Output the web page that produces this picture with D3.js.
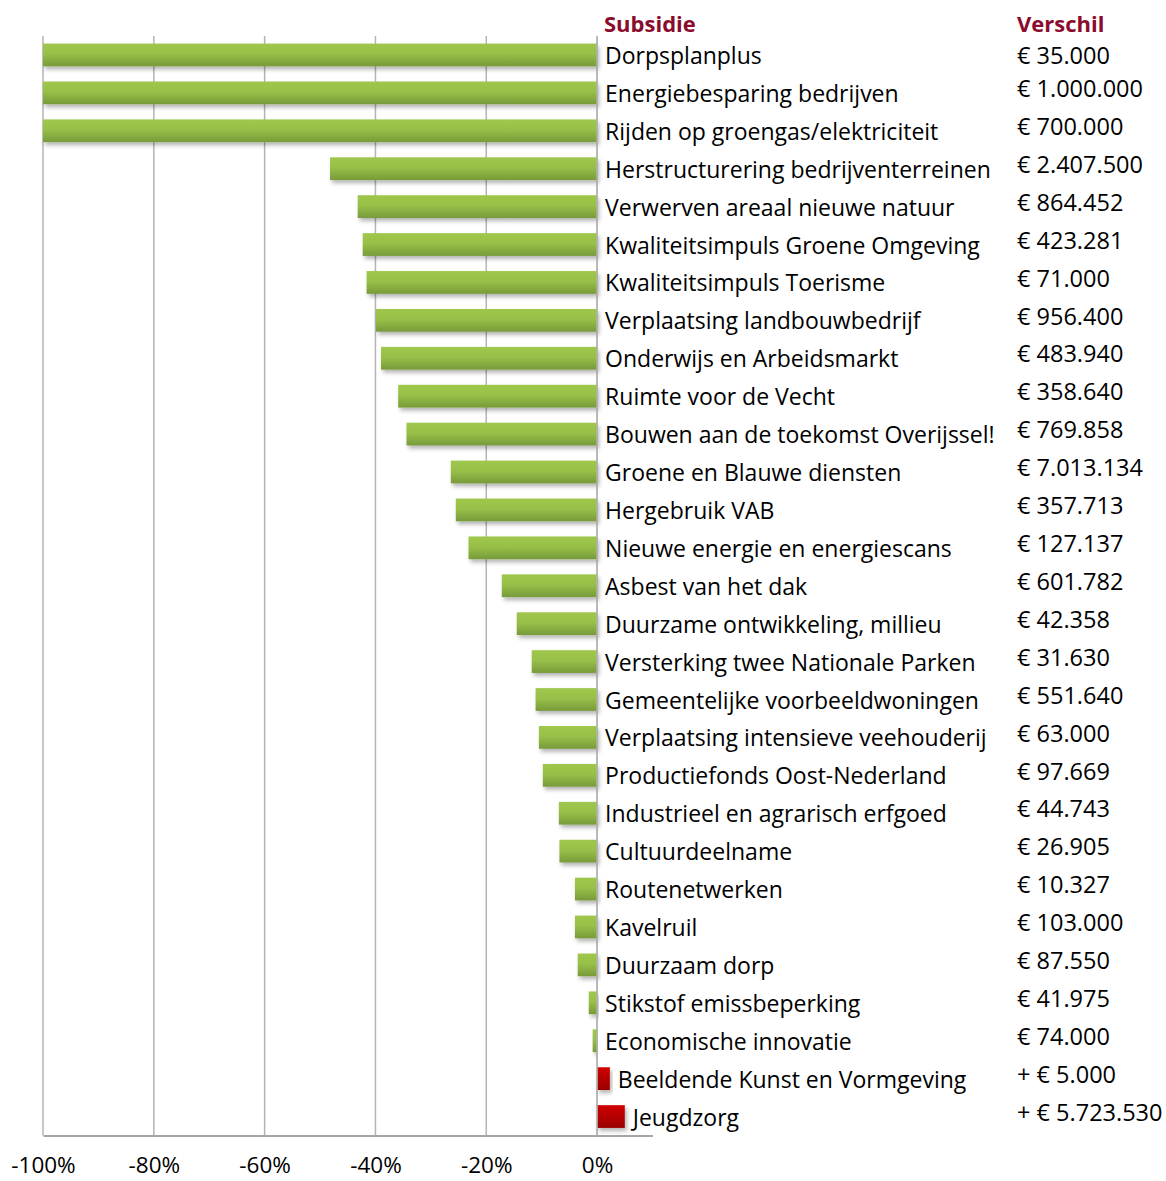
<!DOCTYPE html>
<html>
<head>
<meta charset="utf-8">
<script src="https://cdn.jsdelivr.net/npm/d3@7"></script>
<style>
  body { margin: 0; background: #fff; }
  text { font-family: "Open Sans", sans-serif; }
</style>
</head>
<body>
<script>
// Subsidies and their relative change
const categories = [
  'Dorpsplanplus', 'Energiebesparing bedrijven', 'Rijden op groengas/elektriciteit',
  'Herstructurering bedrijventerreinen', 'Verwerven areaal nieuwe natuur',
  'Kwaliteitsimpuls Groene Omgeving', 'Kwaliteitsimpuls Toerisme',
  'Verplaatsing landbouwbedrijf', 'Onderwijs en Arbeidsmarkt', 'Ruimte voor de Vecht',
  'Bouwen aan de toekomst Overijssel!', 'Groene en Blauwe diensten', 'Hergebruik VAB',
  'Nieuwe energie en energiescans', 'Asbest van het dak', 'Duurzame ontwikkeling, millieu',
  'Versterking twee Nationale Parken', 'Gemeentelijke voorbeeldwoningen',
  'Verplaatsing intensieve veehouderij', 'Productiefonds Oost-Nederland',
  'Industrieel en agrarisch erfgoed', 'Cultuurdeelname', 'Routenetwerken', 'Kavelruil',
  'Duurzaam dorp', 'Stikstof emissbeperking', 'Economische innovatie',
  'Beeldende Kunst en Vormgeving', 'Jeugdzorg'
];
const changes = [
  -1.00, -1.00, -1.00, -0.482, -0.432, -0.423, -0.416, -0.399, -0.390, -0.359,
  -0.344, -0.264, -0.255, -0.232, -0.172, -0.145, -0.118, -0.111, -0.105, -0.098,
  -0.069, -0.068, -0.040, -0.040, -0.035, -0.015, -0.008, 0.023, 0.050
];
const amounts = [
  '€ 35.000', '€ 1.000.000', '€ 700.000', '€ 2.407.500', '€ 864.452', '€ 423.281',
  '€ 71.000', '€ 956.400', '€ 483.940', '€ 358.640', '€ 769.858', '€ 7.013.134',
  '€ 357.713', '€ 127.137', '€ 601.782', '€ 42.358', '€ 31.630', '€ 551.640',
  '€ 63.000', '€ 97.669', '€ 44.743', '€ 26.905', '€ 10.327', '€ 103.000',
  '€ 87.550', '€ 41.975', '€ 74.000', '+ € 5.000', '+ € 5.723.530'
];
const tickValues = [-1, -0.8, -0.6, -0.4, -0.2, 0];

const width = 1166, height = 1181;
const svg = d3.select('body').append('svg')
  .attr('width', width).attr('height', height);

const x = d3.scaleLinear().domain([-1, 0.1]).range([43, 652.5]);
const y = d3.scaleBand().domain(categories).range([36, 1135.5])
  .paddingInner(0.4).paddingOuter(0.2);

const defs = svg.append('defs');
const gGreen = defs.append('linearGradient').attr('id', 'green')
  .attr('x1', 0).attr('y1', 0).attr('x2', 0).attr('y2', 1);
gGreen.append('stop').attr('offset', '0%').attr('stop-color', '#9fc74c');
gGreen.append('stop').attr('offset', '45%').attr('stop-color', '#98c048');
gGreen.append('stop').attr('offset', '100%').attr('stop-color', '#789a3a');
const gRed = defs.append('linearGradient').attr('id', 'red')
  .attr('x1', 0).attr('y1', 0).attr('x2', 0).attr('y2', 1);
gRed.append('stop').attr('offset', '0%').attr('stop-color', '#d00000');
gRed.append('stop').attr('offset', '100%').attr('stop-color', '#9a0000');
const shadow = defs.append('filter').attr('id', 'shadow')
  .attr('x', '-10%').attr('y', '-20%').attr('width', '130%').attr('height', '170%');
shadow.append('feDropShadow').attr('dx', 2).attr('dy', 3).attr('stdDeviation', 2)
  .attr('flood-color', '#000').attr('flood-opacity', 0.3);

// gridlines
svg.append('g').selectAll('line').data(tickValues).enter().append('line')
  .attr('x1', d => x(d)).attr('x2', d => x(d))
  .attr('y1', 36).attr('y2', 1135.5)
  .attr('stroke', '#b4b4b4').attr('stroke-width', 1.5);

// bottom axis
const xAxis = d3.axisBottom(x).tickValues(tickValues)
  .tickFormat(d3.format('.0%')).tickSize(0).tickPadding(22);
const axisG = svg.append('g').attr('transform', 'translate(0,1135.5)').call(xAxis);
axisG.select('.domain').attr('stroke', '#a6a6a6').attr('stroke-width', 2);
axisG.selectAll('text').attr('font-size', 22.5).attr('fill', '#000')
  .style('font-family', '"Open Sans", sans-serif')
  .text(d => d3.format('.0%')(d).replace('−', '-'));

// bars
svg.append('g').selectAll('rect').data(categories).enter().append('rect')
  .attr('x', (d, i) => x(Math.min(0, changes[i])))
  .attr('y', d => y(d))
  .attr('width', (d, i) => Math.abs(x(changes[i]) - x(0)))
  .attr('height', y.bandwidth())
  .attr('fill', (d, i) => changes[i] < 0 ? 'url(#green)' : 'url(#red)')
  .attr('filter', 'url(#shadow)');

// zero line
svg.append('line')
  .attr('x1', x(0)).attr('x2', x(0)).attr('y1', 36).attr('y2', 1135.5)
  .attr('stroke', '#b4b4b4').attr('stroke-width', 1.5);

// category labels
svg.append('g').selectAll('text').data(categories).enter().append('text')
  .attr('x', (d, i) => x(Math.max(0, changes[i])) + 8)
  .attr('y', d => y(d) + y.bandwidth() / 2 + 1)
  .attr('dy', '0.35em')
  .attr('font-size', 23)
  .text(d => d);

// amounts column
svg.append('g').selectAll('text').data(amounts).enter().append('text')
  .attr('x', 1017)
  .attr('y', (d, i) => y(categories[i]) + y.bandwidth() / 2 + (i === 0 ? 1 : -4))
  .attr('dy', '0.35em')
  .attr('font-size', 23.5)
  .text(d => d);

// headers
svg.append('text').attr('x', 604).attr('y', 24).attr('dy', '0.35em')
  .attr('font-size', 22).attr('font-weight', 'bold').attr('fill', '#8b0b2c')
  .text('Subsidie');
svg.append('text').attr('x', 1017).attr('y', 24).attr('dy', '0.35em')
  .attr('font-size', 22).attr('font-weight', 'bold').attr('fill', '#8b0b2c')
  .text('Verschil');
</script>
</body>
</html>
